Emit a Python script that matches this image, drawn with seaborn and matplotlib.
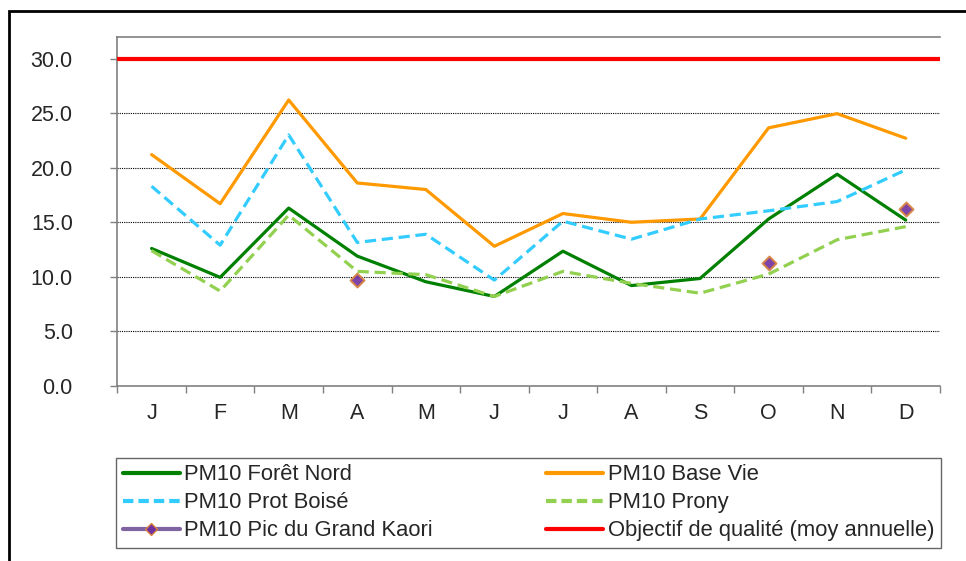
import numpy as np
import pandas as pd
import seaborn as sns
import matplotlib.pyplot as plt
from matplotlib.lines import Line2D
from matplotlib.patches import Rectangle

# month labels (positions are just the index)
months = ["J", "F", "M", "A", "M", "J", "J", "A", "S", "O", "N", "D"]

foret_nord = [12.6, 9.95, 16.3, 11.9, 9.55, 8.2, 12.35, 9.2, 9.85, 15.3, 19.4, 15.2]
base_vie = [21.2, 16.7, 26.2, 18.6, 18.0, 12.8, 15.8, 15.0, 15.3, 23.65, 24.95, 22.7]
prot_boise = [18.3, 12.9, 23.0, 13.15, 13.9, 9.7, 15.1, 13.45, 15.3, 16.05, 16.9, 19.8]
prony = [12.4, 8.7, 15.65, 10.5, 10.2, 8.2, 10.5, 9.4, 8.5, 10.25, 13.4, 14.6]
grand_kaori = [np.nan, np.nan, np.nan, 9.7, np.nan, np.nan, np.nan, np.nan, np.nan, 11.3, np.nan, 16.2]
objectif = 30.0

yticks = [0, 5, 10, 15, 20, 25, 30]

sns.set_style("white")
plt.rcParams["font.family"] = ["Liberation Sans", "DejaVu Sans"]

df = pd.DataFrame({
    "x": np.arange(len(months)),
    "foret": foret_nord,
    "base": base_vie,
    "prot": prot_boise,
    "prony": prony,
    "kaori": grand_kaori,
})

fig = plt.figure(figsize=(9.66, 5.61), dpi=100)
ax = fig.add_axes([117.3 / 966, 1 - 386 / 561, (940 - 117.3) / 966, (386 - 36.7) / 561])

GREEN = "#008000"
ORANGE = "#FF9900"
BLUE = "#33CCFF"
LGREEN = "#92D050"
RED = "#FF0000"
PURPLE = "#7030A0"

# dotted gridlines
for t in yticks[1:-1]:
    ax.axhline(t, color="black", lw=0.8, ls=(0, (1, 1)), zorder=1)

sns.lineplot(data=df, x="x", y="foret", ax=ax, color=GREEN, lw=2.3, zorder=3)
sns.lineplot(data=df, x="x", y="base", ax=ax, color=ORANGE, lw=2.3, zorder=3)
sns.lineplot(data=df, x="x", y="prot", ax=ax, color=BLUE, lw=2.3, zorder=3)
ax.lines[-1].set_dashes((3.5, 1.8))
sns.lineplot(data=df, x="x", y="prony", ax=ax, color=LGREEN, lw=2.3, zorder=3)
ax.lines[-1].set_dashes((3.5, 1.8))
sns.scatterplot(data=df, x="x", y="kaori", ax=ax, marker="D", s=50, color=PURPLE,
                edgecolor="#D9843F", linewidth=1.5, alpha=0.9, zorder=4)
ax.axhline(objectif, color=RED, lw=3, zorder=5)

ax.set_xlim(-0.5, len(months) - 0.5)
ax.set_ylim(0, 32)
ax.set_xlabel("")
ax.set_ylabel("")

ax.set_yticks(yticks)
ax.set_yticklabels([f"{t:.1f}" for t in yticks])
ax.set_xticks(np.arange(len(months) + 1) - 0.5)
ax.set_xticklabels([])
ax.set_xticks(np.arange(len(months)), minor=True)
ax.set_xticklabels(months, minor=True)

ax.tick_params(axis="y", which="major", direction="out", length=5, width=1, color="#808080",
               labelsize=15.5, pad=27, left=True)
ax.tick_params(axis="x", which="major", direction="out", length=5, width=1, color="#808080", bottom=True)
ax.tick_params(axis="x", which="minor", length=0, labelsize=15.5, pad=12, bottom=True)

for s in ["left", "bottom", "top"]:
    ax.spines[s].set_color("#808080")
    ax.spines[s].set_linewidth(1.2)
ax.spines["right"].set_visible(False)

handles = [
    Line2D([], [], color=GREEN, lw=3),
    Line2D([], [], color=BLUE, lw=3, dashes=(2.5, 1.2)),
    Line2D([], [], color="#8064A2", lw=3, marker="D", markersize=6,
           markerfacecolor=PURPLE, markeredgecolor="#D9843F"),
    Line2D([], [], color=ORANGE, lw=3),
    Line2D([], [], color=LGREEN, lw=3, dashes=(2.5, 1.2)),
    Line2D([], [], color=RED, lw=3),
]
labels = [
    "PM10 Forêt Nord",
    "PM10 Prot Boisé",
    "PM10 Pic du Grand Kaori",
    "PM10 Base Vie",
    "PM10 Prony",
    "Objectif de qualité (moy annuelle)",
]
x0, x1 = 116 / 966, 940.7 / 966
y0, y1 = 1 - 548 / 561, 1 - 459.3 / 561
leg = fig.legend(handles, labels, loc="lower left", bbox_to_anchor=(x0, y0, x1 - x0, y1 - y0),
                 mode="expand", ncol=2, borderaxespad=0, fontsize=15.8, frameon=True,
                 fancybox=False, edgecolor="#404040", handlelength=2.6, handletextpad=0.2,
                 labelspacing=0.32, borderpad=0.3, columnspacing=1.0)
leg.get_frame().set_linewidth(1.0)

# outer chart border
fig.patches.append(Rectangle((9 / 966, -0.05), 1.1, 1 - 11 / 561 + 0.05, transform=fig.transFigure,
                             fill=False, edgecolor="black", lw=2))

fig.savefig("out.png", dpi=100)
